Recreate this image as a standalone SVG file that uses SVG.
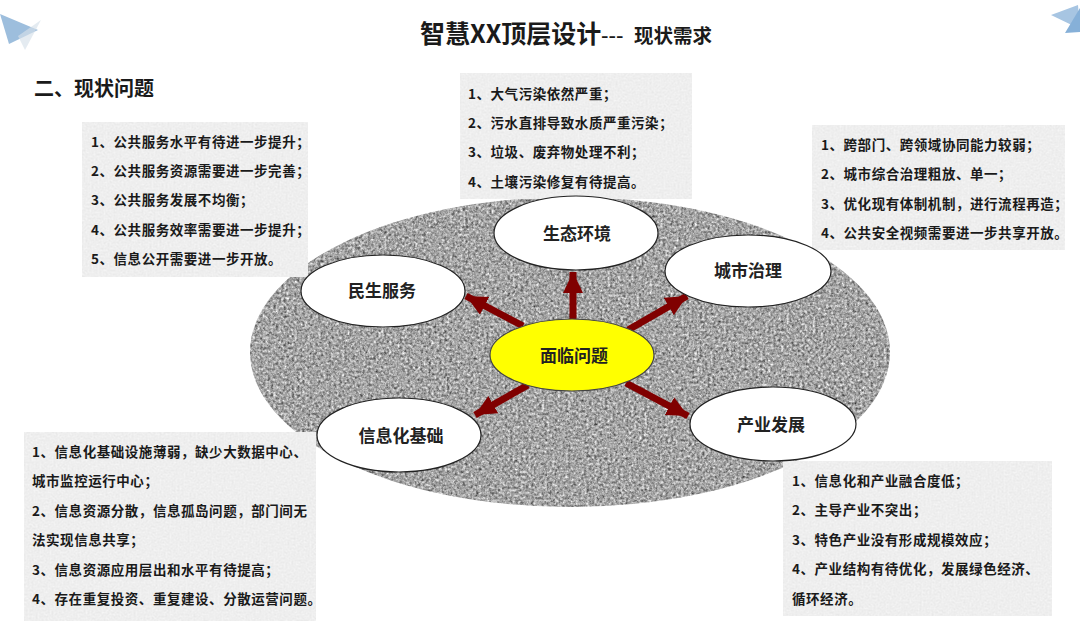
<svg xmlns="http://www.w3.org/2000/svg" width="1080" height="622" viewBox="0 0 1080 622">
<style>
text{font-family:"Noto Sans CJK SC","Liberation Sans",sans-serif;fill:#1a1a1a}
.t{font-size:13.5px;font-weight:700;letter-spacing:.55px}
.n{font-size:17px;font-weight:700;text-anchor:middle;dominant-baseline:central;fill:#222}
.e{fill:#fff;stroke:#222;stroke-width:1.2}
.b{fill:#efefef;filter:url(#paper)}
.a{stroke:#800000;stroke-width:7;fill:none;marker-end:url(#ah)}
</style>
<defs>
<marker id="ah" markerUnits="userSpaceOnUse" markerWidth="24" markerHeight="22" refX="21" refY="10" orient="auto"><path d="M0 0L21 10L0 20z" fill="#800000"/></marker>
<filter id="granite" x="0" y="0" width="100%" height="100%" color-interpolation-filters="sRGB">
<feTurbulence type="fractalNoise" baseFrequency=".38" numOctaves="3" seed="7" result="n"/>
<feColorMatrix in="n" type="matrix" values=".62 .62 0 0 .02  .62 .62 0 0 .02  .62 .62 0 0 .02  0 0 0 0 1" result="g"/>
<feGaussianBlur in="g" stdDeviation=".6" result="s"/>
<feComposite in="s" in2="SourceAlpha" operator="in"/>
</filter>
<filter id="paper" x="0" y="0" width="100%" height="100%" color-interpolation-filters="sRGB">
<feTurbulence type="fractalNoise" baseFrequency=".5" numOctaves="2" seed="3" result="n"/>
<feColorMatrix in="n" type="matrix" values=".05 .05 0 0 .885  .05 .05 0 0 .885  .05 .05 0 0 .885  0 0 0 0 1" result="g"/>
<feComposite in="g" in2="SourceAlpha" operator="in"/>
</filter>
<filter id="soft"><feGaussianBlur stdDeviation=".5"/></filter>
</defs>
<rect width="1080" height="622" fill="#fff"/>

<g id="deco-left" filter="url(#soft)">
<path d="M0 14L38 30L9 44Z" fill="#9dbedd"/>
<path d="M18 36L41 20L25 50Z" fill="#d5e0ea" opacity=".65"/>
</g>
<g id="deco-right" filter="url(#soft)">
<path d="M1051 15L1078 5L1080 29Z" fill="#a7c5e2"/>
<path d="M1065 33L1080 8L1080 32Z" fill="#86b0d8"/>
</g>

<g id="title">
<text x="420" y="43" font-size="25" font-weight="700">智慧XX顶层设计<tspan x="601" font-size="21" font-weight="500">---</tspan><tspan x="634" font-size="19.5">现状需求</tspan></text>
</g>
<text x="34" y="96" font-size="20" font-weight="700">二、现状问题</text>

<ellipse id="granite-disc" cx="570" cy="352" rx="320" ry="155" fill="#888" filter="url(#granite)"/>

<g id="box-minsheng">
<rect class="b" x="82" y="122" width="226" height="155"/>
<text class="t" x="91" y="147">1、公共服务水平有待进一步提升；</text>
<text class="t" x="91" y="176">2、公共服务资源需要进一步完善；</text>
<text class="t" x="91" y="205">3、公共服务发展不均衡；</text>
<text class="t" x="91" y="235">4、公共服务效率需要进一步提升；</text>
<text class="t" x="91" y="264">5、信息公开需要进一步开放。</text>
</g>
<g id="box-shengtai">
<rect class="b" x="460" y="73" width="232" height="126"/>
<text class="t" x="468" y="99">1、大气污染依然严重；</text>
<text class="t" x="468" y="128">2、污水直排导致水质严重污染；</text>
<text class="t" x="468" y="157">3、垃圾、废弃物处理不利；</text>
<text class="t" x="468" y="187">4、土壤污染修复有待提高。</text>
</g>
<g id="box-chengshi">
<rect class="b" x="812" y="125" width="253" height="125"/>
<text class="t" x="821" y="150">1、跨部门、跨领域协同能力较弱；</text>
<text class="t" x="821" y="179">2、城市综合治理粗放、单一；</text>
<text class="t" x="821" y="209">3、优化现有体制机制，进行流程再造；</text>
<text class="t" x="821" y="238">4、公共安全视频需要进一步共享开放。</text>
</g>
<g id="box-xinxi">
<rect class="b" x="24" y="432" width="292" height="189"/>
<text class="t" x="32" y="457">1、信息化基础设施薄弱，缺少大数据中心、</text>
<text class="t" x="32" y="486">城市监控运行中心；</text>
<text class="t" x="32" y="516">2、信息资源分散，信息孤岛问题，部门间无</text>
<text class="t" x="32" y="545">法实现信息共享；</text>
<text class="t" x="32" y="575">3、信息资源应用层出和水平有待提高；</text>
<text class="t" x="32" y="604">4、存在重复投资、重复建设、分散运营问题。</text>
</g>
<g id="box-chanye">
<rect class="b" x="783" y="461" width="269" height="155"/>
<text class="t" x="792" y="486">1、信息化和产业融合度低；</text>
<text class="t" x="792" y="515">2、主导产业不突出；</text>
<text class="t" x="792" y="545">3、特色产业没有形成规模效应；</text>
<text class="t" x="792" y="574">4、产业结构有待优化，发展绿色经济、</text>
<text class="t" x="792" y="604">循环经济。</text>
</g>

<g id="connectors">
<path class="a" d="M573 319V272"/>
<path class="a" d="M523 326L466 296"/>
<path class="a" d="M628 330L687 296"/>
<path class="a" d="M528 385L475 415"/>
<path class="a" d="M626 383L688 416"/>
</g>

<g id="node-minsheng"><ellipse class="e" cx="383" cy="291" rx="82" ry="36"/><text class="n" x="382" y="289">民生服务</text></g>
<g id="node-shengtai"><ellipse class="e" cx="576" cy="233" rx="82" ry="37"/><text class="n" x="577" y="232">生态环境</text></g>
<g id="node-chengshi"><ellipse class="e" cx="748" cy="271" rx="83" ry="36"/><text class="n" x="748" y="269">城市治理</text></g>
<g id="node-xinxi"><ellipse class="e" cx="399" cy="435" rx="82" ry="37"/><text class="n" x="401" y="434">信息化基础</text></g>
<g id="node-chanye"><ellipse class="e" cx="773" cy="424" rx="83" ry="37"/><text class="n" x="771" y="423">产业发展</text></g>
<g id="node-center"><ellipse cx="572" cy="355" rx="82" ry="36" fill="#ffff00" stroke="#444" stroke-width="1.2"/><text class="n" x="574" y="354">面临问题</text></g>
</svg>
